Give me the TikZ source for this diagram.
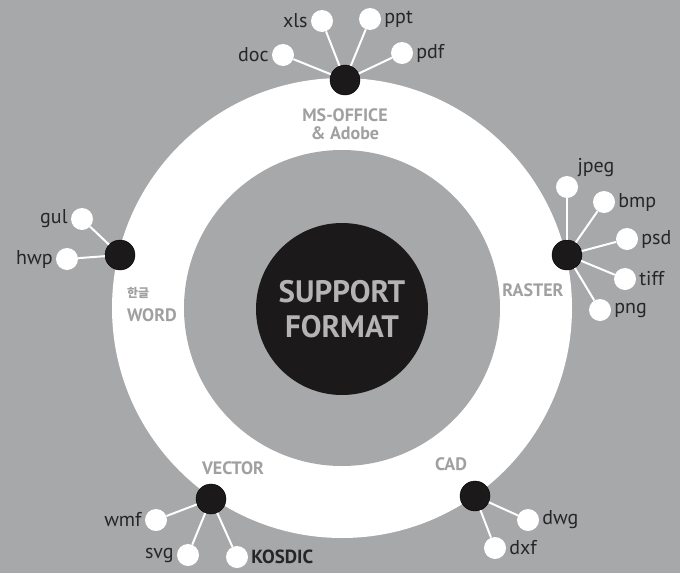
\documentclass[tikz,border=0pt]{standalone}
\usepackage{fontspec}
\setmainfont{PT Sans}
\newfontfamily\krfont{Noto Sans CJK KR}
\definecolor{bggray}{HTML}{A7A8AA}
\definecolor{hubblack}{HTML}{1B1919}
\definecolor{ringtext}{HTML}{A0A0A0}
\definecolor{coretext}{HTML}{B4B4B4}
\definecolor{labeltext}{HTML}{262626}

\begin{document}
\begin{tikzpicture}[
        x=1pt,y=-1pt,label distance=2pt,
        hub/.style={circle,fill=hubblack,draw=black,minimum size=30pt,inner sep=0pt},
        leaf/.style={circle,fill=white,minimum size=22pt,inner sep=0pt},
        spoke/.style={draw=white,line width=2pt},
        lbl/.style={text=labeltext,font=\fontsize{20}{22}\selectfont,inner sep=1pt},
        ringtxt/.style={text=ringtext,font=\bfseries\fontsize{18}{18}\selectfont,align=center,inner sep=0pt},
        ]

        \fill[bggray] (0,0) rectangle (680,573);
        \useasboundingbox (0,0) rectangle (680,573);
        \fill[white] (342,308) circle (230pt);
        \fill[bggray] (342,308) circle (158pt);
        \node[circle,fill=hubblack,minimum size=172pt,text=coretext,align=center,
              font=\bfseries\fontsize{31}{35}\selectfont] (core) at (342,309) {SUPPORT\\FORMAT};

        \node[ringtxt] (officetxt) at (345,124) {MS-OFFICE\\\& Adobe};
        \node[ringtxt,anchor=west] (wordkr) at (127,293) {\krfont\fontsize{12}{12}\selectfont 한글};
        \node[ringtxt,anchor=west] (wordtxt) at (127,315) {WORD};
        \node[ringtxt] (rastertxt) at (533,290) {RASTER};
        \node[ringtxt] (vectortxt) at (233,468) {VECTOR};
        \node[ringtxt] (cadtxt) at (451,464) {CAD};

        \node[hub] (office) at (345,80) {};
        \node[hub] (word)   at (120,255) {};
        \node[hub] (raster) at (567,255) {};
        \node[hub] (vector) at (211,499) {};
        \node[hub] (cad)    at (475,496) {};

        \node[leaf,label={[lbl]left:doc}]  (doc) at (283,55) {};
        \node[leaf,label={[lbl]left:xls}]  (xls) at (322,21) {};
        \node[leaf,label={[lbl]right:ppt}] (ppt) at (370,19) {};
        \node[leaf,label={[lbl]right:pdf}] (pdf) at (402,53) {};

        \node[leaf,label={[lbl]left:gul}] (gul) at (82,219) {};
        \node[leaf,label={[lbl]left:hwp}] (hwp) at (67,259) {};

        \node[leaf,label={[lbl]above right:jpeg}] (jpeg) at (567,187) {};
        \node[leaf,label={[lbl]right:bmp}]  (bmp)  at (604,202) {};
        \node[leaf,label={[lbl]right:psd}]  (psd)  at (627,239) {};
        \node[leaf,label={[lbl]right:tiff}] (tiff) at (625,279) {};
        \node[leaf,label={[lbl]right:png}]  (png)  at (600,310) {};

        \node[leaf,label={[lbl]left:wmf}] (wmf) at (156,520) {};
        \node[leaf,label={[lbl]left:svg}] (svg) at (188,555) {};
        \node[leaf,label={[lbl,font=\bfseries\fontsize{19}{20}\selectfont]right:KOSDIC}] (kosdic) at (237,557) {};

        \node[leaf,label={[lbl]right:dwg}] (dwg) at (528,520) {};
        \node[leaf,label={[lbl]right:dxf}] (dxf) at (495,548) {};

        \foreach \from/\to in {office/doc,office/xls,office/ppt,office/pdf,
                               word/gul,word/hwp,
                               raster/jpeg,raster/bmp,raster/psd,raster/tiff,raster/png,
                               vector/wmf,vector/svg,vector/kosdic,
                               cad/dwg,cad/dxf}
          \draw[spoke] (\from) -- (\to);
\end{tikzpicture}
\end{document}
